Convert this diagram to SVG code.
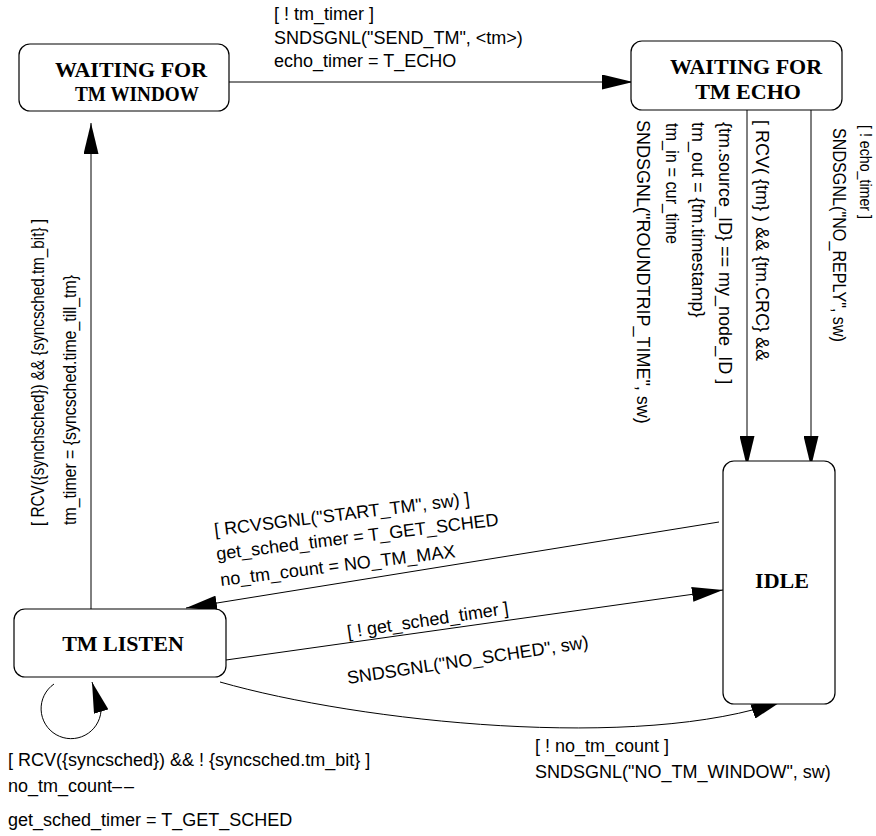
<svg xmlns="http://www.w3.org/2000/svg" width="876" height="836" viewBox="0 0 876 836">
  <style>
    .box { fill: #fff; stroke: #000; stroke-width: 1.2; }
    .node { font-family: "Liberation Serif", "Times New Roman", serif; font-weight: bold; font-size: 22px; text-anchor: middle; fill: #000; }
    .lbl { font-family: "Liberation Sans", Arial, sans-serif; font-size: 18px; fill: #000; }
    .edge { fill: none; stroke: #000; stroke-width: 1; marker-end: url(#ah); }
  </style>
  <defs>
    <marker id="ah" viewBox="0 0 31 15" refX="31" refY="7.5" markerWidth="31" markerHeight="15" markerUnits="userSpaceOnUse" orient="auto">
      <path d="M0,0 L31,7.5 L0,15 z" fill="#000"/>
    </marker>
  </defs>
  <rect width="876" height="836" fill="#fff"/>

  <!-- connectors -->
  <g id="connectors">
    <path class="edge" d="M229,82 H633"/>
    <path class="edge" d="M91,609 V123"/>
    <path class="edge" d="M747,110 V467"/>
    <path class="edge" d="M811,110 V467"/>
    <path class="edge" d="M719,522 L186,608"/>
    <path class="edge" d="M226,660 L723,590"/>
    <path class="edge" d="M220,682 C360,722 640,752 782,701"/>
    <path class="edge" d="M54,684 A30,30 0 1 0 101,711 L92,682"/>
  </g>

  <!-- transition labels -->
  <g id="labels">
    <text class="lbl" x="274" y="20">[ ! tm_timer ]</text>
    <text class="lbl" x="274" y="44">SNDSGNL("SEND_TM", &lt;tm&gt;)</text>
    <text class="lbl" x="274" y="67">echo_timer = T_ECHO</text>

    <text class="lbl" transform="translate(860,125) rotate(90)" style="font-size:16px" textLength="94" lengthAdjust="spacingAndGlyphs">[ ! echo_timer ]</text>
    <text class="lbl" transform="translate(833,128) rotate(90)" textLength="214" lengthAdjust="spacingAndGlyphs">SNDSGNL("NO_REPLY", sw)</text>

    <text class="lbl" transform="translate(756,120) rotate(90)">[ RCV( {tm} ) &amp;&amp; {tm.CRC} &amp;&amp;</text>
    <text class="lbl" transform="translate(719,122) rotate(90)">{tm.source_ID} == my_node_ID ]</text>
    <text class="lbl" transform="translate(692,122) rotate(90)">tm_out = {tm.timestamp}</text>
    <text class="lbl" transform="translate(666,123) rotate(90)" textLength="121" lengthAdjust="spacingAndGlyphs">tm_in = cur_time</text>
    <text class="lbl" transform="translate(637,120) rotate(90)">SNDSGNL("ROUNDTRIP_TIME", sw)</text>

    <text class="lbl" transform="translate(44,526) rotate(-90)" textLength="307" lengthAdjust="spacingAndGlyphs">[ RCV({synchsched}) &amp;&amp; {syncsched.tm_bit} ]</text>
    <text class="lbl" transform="translate(76,525) rotate(-90)" textLength="250" lengthAdjust="spacingAndGlyphs">tm_timer = {syncsched.time_till_tm}</text>

    <text class="lbl" transform="translate(215,536) rotate(-7)">[ RCVSGNL("START_TM", sw) ]</text>
    <text class="lbl" transform="translate(217,560) rotate(-7)">get_sched_timer = T_GET_SCHED</text>
    <text class="lbl" transform="translate(221,586) rotate(-7)">no_tm_count = NO_TM_MAX</text>

    <text class="lbl" transform="translate(348,638) rotate(-8.5)">[ ! get_sched_timer ]</text>
    <text class="lbl" transform="translate(348,684) rotate(-8.5)">SNDSGNL("NO_SCHED", sw)</text>

    <text class="lbl" x="535" y="752">[ ! no_tm_count ]</text>
    <text class="lbl" x="535" y="778">SNDSGNL("NO_TM_WINDOW", sw)</text>

    <text class="lbl" x="8" y="766">[ RCV({syncsched}) &amp;&amp; ! {syncsched.tm_bit} ]</text>
    <text class="lbl" x="8" y="792">no_tm_count–<tspan dx="2">–</tspan></text>
    <text class="lbl" x="8" y="826">get_sched_timer = T_GET_SCHED</text>
  </g>

  <!-- states -->
  <g id="waiting-tm-window">
    <rect class="box" x="19" y="44" width="210" height="67" rx="11"/>
    <text class="node" x="131" y="77">WAITING FOR</text>
    <text class="node" x="137" y="101" textLength="124" lengthAdjust="spacingAndGlyphs">TM WINDOW</text>
  </g>
  <g id="waiting-tm-echo">
    <rect class="box" x="631" y="41" width="211" height="69" rx="11"/>
    <text class="node" x="746" y="74">WAITING FOR</text>
    <text class="node" x="748" y="99">TM ECHO</text>
  </g>
  <g id="idle">
    <rect class="box" x="723" y="461" width="112" height="243" rx="11"/>
    <text class="node" x="782" y="588">IDLE</text>
  </g>
  <g id="tm-listen">
    <rect class="box" x="14" y="609" width="212" height="68" rx="11"/>
    <text class="node" x="123" y="651">TM LISTEN</text>
  </g>
</svg>
